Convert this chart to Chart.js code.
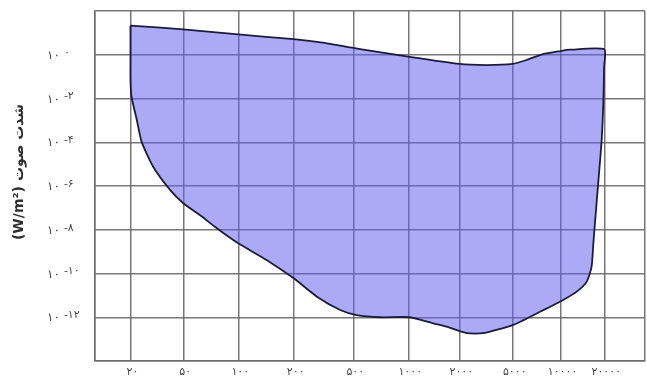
<!DOCTYPE html>
<html><head><meta charset="utf-8">
<script src="https://cdn.jsdelivr.net/npm/chart.js@4/dist/chart.umd.min.js"></script>
<style>html,body{margin:0;padding:0;background:#fff}</style>
</head><body>
<canvas id="c" width="647" height="383"></canvas>
<script>
// Frequency categories (Hz), Persian digits
const freqLabels = ['۲۰','۵۰','۱۰۰','۲۰۰','۵۰۰','۱۰۰۰','۲۰۰۰','۵۰۰۰','۱۰۰۰۰','۲۰۰۰۰'];
// Intensity ticks: exponents of 10 (W/m²)
const intensityExponents = [0,-2,-4,-6,-8,-10,-12];
const intensityBase = '۱۰';
const intensityExpLabels = ['۰','-۲','-۴','-۶','-۸','-۱۰','-۱۲'];
const yTitle = 'شدت صوت (W/m²)';

// Threshold of pain (upper edge), x = frequency category index, y = log10(I)
const painIdx = [0, 1, 2, 3, 3.49, 4, 4.30, 5, 6, 6.51, 7, 7.29, 7.63, 8, 8.22, 9];
const painExp = [1.33, 1.16, 0.93, 0.71, 0.55, 0.31, 0.19, -0.09, -0.42, -0.47, -0.42, -0.24, 0.03, 0.17, 0.23, 0.25];
// Right edge and threshold of hearing (lower edge), from high to low frequency
const hearIdx = [8.995, 8.98, 8.94, 8.86, 8.78, 8.75, 8.71, 8.60, 8.37, 8.06, 7.57, 7.01, 6.45, 6.14, 5.75, 5.49, 5.03, 4.49, 4.06, 3.78, 3.39, 3.0, 2.51, 2, 1.61, 1.30, 1, 0.75, 0.43, 0.21, 0.12, 0.02, 0, 0];
const hearExp = [-0.56, -2.07, -3.90, -5.88, -7.86, -8.62, -9.69, -10.37, -10.83, -11.21, -11.75, -12.35, -12.73, -12.73, -12.43, -12.28, -12.0, -12.0, -11.90, -11.67, -11.06, -10.22, -9.38, -8.62, -7.93, -7.33, -6.79, -6.18, -5.12, -3.97, -2.98, -1.92, -1.15, -0.24];

// grid layout of the (hand drawn) frequency axis: category index -> fraction of plot width
const xGridIdx = [-1,0,1,2,3,4,5,6,7,8,9,10];
const xGridFrac = [0,0.0645,0.1605,0.2605,0.3613,0.4696,0.5696,0.6624,0.7595,0.8464,0.9260,1];

function warp(v){
  const n = xGridIdx.length;
  let i = 0;
  if (v <= xGridIdx[0]) i = 0;
  else if (v >= xGridIdx[n-1]) i = n-2;
  else { while (i < n-2 && v > xGridIdx[i+1]) i++; }
  const t = (v - xGridIdx[i]) / (xGridIdx[i+1] - xGridIdx[i]);
  return xGridFrac[i] + t * (xGridFrac[i+1] - xGridFrac[i]);
}
function unwarp(f){
  const n = xGridFrac.length;
  let i = 0;
  while (i < n-2 && f > xGridFrac[i+1]) i++;
  const t = (f - xGridFrac[i]) / (xGridFrac[i+1] - xGridFrac[i]);
  return xGridIdx[i] + t * (xGridIdx[i+1] - xGridIdx[i]);
}

const shape = [];
painIdx.forEach((x,i)=>shape.push({x, y: painExp[i]}));
hearIdx.forEach((x,i)=>shape.push({x, y: hearExp[i]}));
shape.push({x: painIdx[0], y: painExp[0]});

const gridColor = 'rgba(105,105,105,0.9)';
const FONT = '"DejaVu Sans", sans-serif';

const annot = {
  id: 'annot',
  afterDraw(chart){
    const ctx = chart.ctx, xs = chart.scales.x, ys = chart.scales.y;
    ctx.save();
    ctx.fillStyle = '#474747';
    ctx.textBaseline = 'middle';
    ctx.textAlign = 'left';
    intensityExponents.forEach((e,i)=>{
      const py = ys.getPixelForValue(e);
      ctx.font = '12px ' + FONT;
      ctx.letterSpacing = '1px';
      ctx.fillText(intensityBase, 47, py + 1);
      const w = ctx.measureText(intensityBase).width;
      ctx.font = '11px ' + FONT;
      ctx.letterSpacing = '2px';
      ctx.fillText(intensityExpLabels[i], 47 + w + 4, py - 2);
    });
    ctx.font = '11px ' + FONT;
    ctx.letterSpacing = '4px';
    ctx.textAlign = 'center';
    freqLabels.forEach((lab,i)=>{
      ctx.fillText(lab, xs.getPixelForValue(i) + 2, 372);
    });
    ctx.letterSpacing = '0px';
    // y-axis title
    ctx.translate(19, 172);
    ctx.rotate(-Math.PI/2);
    ctx.direction = 'rtl';
    ctx.font = 'bold 14px ' + FONT;
    ctx.fillStyle = '#2e2e2e';
    ctx.textAlign = 'center';
    ctx.fillText(yTitle, 0, 0);
    ctx.restore();
  }
};

new Chart(document.getElementById('c'), {
  type: 'scatter',
  data: {
    datasets: [{
      data: shape,
      showLine: true,
      fill: 'shape',
      backgroundColor: 'rgba(96,92,238,0.52)',
      borderColor: '#1c1c3a',
      borderWidth: 1.8,
      tension: 0.2,
      pointRadius: 0,
      pointHoverRadius: 0
    }]
  },
  options: {
    responsive: false,
    animation: false,
    events: [],
    layout: { padding: { top: 11, right: 2, bottom: 0, left: 0 } },
    plugins: { legend: { display: false }, tooltip: { enabled: false } },
    scales: {
      x: {
        type: 'linear', min: -1, max: 10,
        afterBuildTicks: s => {
          s.ticks = xGridIdx.map(v => ({ value: v }));
          s.getPixelForValue = function(v){ return this.left + warp(v) * this.width; };
          s.getValueForPixel = function(p){ return unwarp((p - this.left) / this.width); };
        },
        afterFit: s => { s.height = 22; },
        ticks: { display: false },
        grid: { color: gridColor, lineWidth: 1.5, drawTicks: false },
        border: { display: true, color: gridColor, width: 1.5 }
      },
      y: {
        type: 'linear', min: -14, max: 2,
        afterFit: s => { s.width = 95; },
        ticks: { display: false, stepSize: 2 },
        grid: { color: gridColor, lineWidth: 1.5, drawTicks: false },
        border: { display: true, color: gridColor, width: 1.5 }
      }
    }
  },
  plugins: [annot]
});
</script>
</body></html>
